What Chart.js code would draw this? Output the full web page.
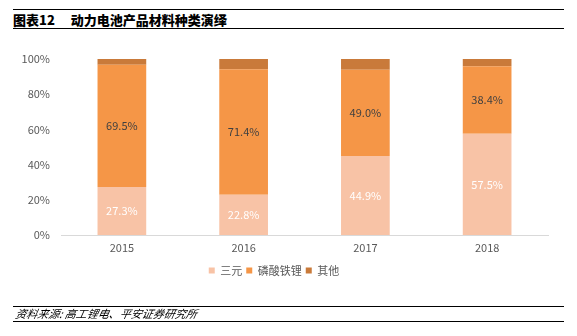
<!DOCTYPE html>
<html>
<head>
<meta charset="utf-8">
<script src="https://cdn.jsdelivr.net/npm/chart.js@4.4.1/dist/chart.umd.min.js"></script>
<style>
  html, body { margin: 0; padding: 0; background: #fff; }
  #wrap { position: relative; width: 577px; height: 336px; overflow: hidden; }
  #c { position: absolute; left: 0; top: 0; }
  .rule { position: absolute; left: 13px; width: 551px; height: 0; border-top: 1.5px solid #000; }
  #title { position: absolute; left: 13px; top: 11px; font-family: "Noto Sans CJK SC", sans-serif; font-weight: 900; font-size: 13px; line-height: 17px; color: #000; white-space: nowrap; }
  #title .num { margin-right: 16px; }
  #src { position: absolute; left: 14px; top: 306px; font-family: "Noto Sans CJK SC", sans-serif; font-style: italic; font-size: 11px; line-height: 15px; color: #000; white-space: nowrap; transform: skewX(-12deg); transform-origin: left bottom; }
</style>
</head>
<body>
<div id="wrap">
  <div class="rule" style="top:9px"></div>
  <div id="title"><span class="num">图表12</span>动力电池产品材料种类演绎</div>
  <div class="rule" style="top:28px"></div>
  <canvas id="c" width="577" height="336"></canvas>
  <div class="rule" style="top:306px"></div>
  <div id="src">资料来源: 高工锂电、平安证券研究所</div>
  <div class="rule" style="top:321px"></div>
</div>
<script>
const categories = ["2015", "2016", "2017", "2018"];
const ternary = [27.3, 22.8, 44.9, 57.5];
const lfp = [69.5, 71.4, 49.0, 38.4];
const other = [3.2, 5.8, 6.1, 4.1];
const seriesNames = ["三元", "磷酸铁锂", "其他"];
const yTicks = [0, 20, 40, 60, 80, 100];

const FONT = "'Noto Sans CJK SC', 'Liberation Sans', sans-serif";

const labelPlugin = {
  id: 'segLabels',
  afterDatasetsDraw(chart) {
    const ctx = chart.ctx;
    ctx.save();
    ctx.font = "11px " + FONT;
    ctx.textAlign = 'center';
    ctx.textBaseline = 'middle';
    chart.data.datasets.forEach((ds, di) => {
      if (!ds.labelColor) return;
      const meta = chart.getDatasetMeta(di);
      meta.data.forEach((bar, i) => {
        const v = ds.data[i];
        ctx.fillStyle = ds.labelColor;
        ctx.fillText(v.toFixed(1) + '%', bar.x, (bar.y + bar.base) / 2);
      });
    });
    ctx.restore();
  }
};

new Chart(document.getElementById('c'), {
  type: 'bar',
  data: {
    labels: categories,
    datasets: [
      { label: seriesNames[0], data: ternary, backgroundColor: '#F8C3A6', labelColor: '#ffffff' },
      { label: seriesNames[1], data: lfp, backgroundColor: '#F59647', labelColor: '#404040' },
      { label: seriesNames[2], data: other, backgroundColor: '#C97A3A' }
    ]
  },
  options: {
    responsive: false,
    animation: false,
    devicePixelRatio: 1,
    layout: { padding: { top: 59, bottom: 50, left: 0, right: 29 } },
    datasets: { bar: { barPercentage: 0.4, categoryPercentage: 1.0 } },
    plugins: {
      legend: {
        position: 'bottom',
        labels: { boxWidth: 6, boxHeight: 6, padding: 4, color: '#595959', font: { family: FONT, size: 11 } }
      },
      tooltip: { enabled: false }
    },
    scales: {
      x: {
        stacked: true,
        grid: { display: false, drawTicks: false },
        border: { display: true, color: '#d9d9d9', width: 1 },
        ticks: { color: '#595959', padding: 6, font: { family: FONT, size: 11 } },
        afterFit(s) { s.height = 26; }
      },
      y: {
        stacked: true,
        min: 0, max: 100,
        afterBuildTicks(s) { s.ticks = yTicks.map(v => ({ value: v })); },
        grid: { display: false, drawTicks: false },
        border: { display: false },
        ticks: { color: '#595959', padding: 11, font: { family: FONT, size: 11 }, callback: v => v + '%' },
        afterFit(s) { s.width = 61; }
      }
    }
  },
  plugins: [labelPlugin]
});
</script>
</body>
</html>
